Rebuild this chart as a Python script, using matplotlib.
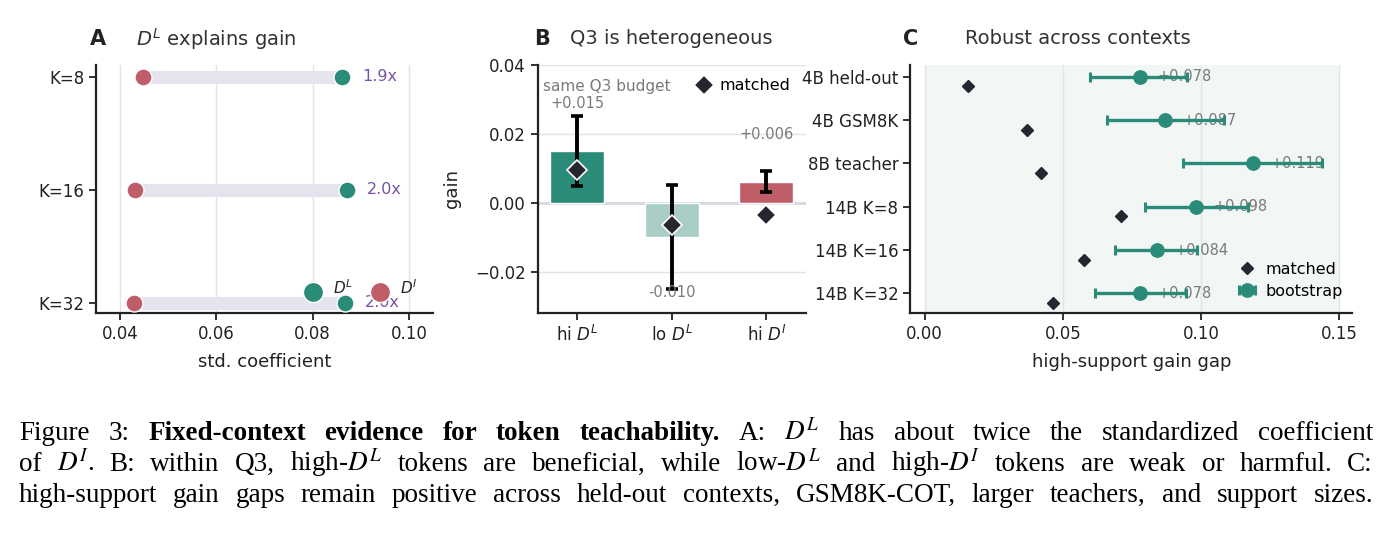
import numpy as np
import matplotlib as mpl
mpl.use('Agg')
import matplotlib.pyplot as plt

####################################################################################
# data

# panel A
k_labels = ['K=8', 'K=16', 'K=32']
coef_DI = [0.0447, 0.0431, 0.0428]
coef_DL = [0.0861, 0.0871, 0.0867]
key_x = [0.080, 0.094]          # inline key markers (D^L, D^I)

# panel B
groups = ['hi $D^L$', 'lo $D^L$', 'hi $D^I$']
gain = [0.0150, -0.0098, 0.0060]
gain_lo = [0.0049, -0.0249, 0.0030]
gain_hi = [0.0251, 0.0053, 0.0091]
matched_b = [0.0094, -0.0064, -0.0035]

# panel C
contexts = ['4B held-out', '4B GSM8K', '8B teacher', '14B K=8', '14B K=16', '14B K=32']
boot_gap = [0.0778, 0.0869, 0.1188, 0.0981, 0.0840, 0.0778]
boot_lo = [0.0597, 0.0659, 0.0933, 0.0798, 0.0688, 0.0615]
boot_hi = [0.0950, 0.1083, 0.1438, 0.1170, 0.0984, 0.0947]
matched_c = [0.0157, 0.0372, 0.0421, 0.0710, 0.0577, 0.0464]

caption = [
    [('Figure', 0), ('3:', 0), ('Fixed-context', 1), ('evidence', 1), ('for', 1), ('token', 1),
     ('teachability.', 1), ('A:', 0), ('$D^L$', 0), ('has', 0), ('about', 0), ('twice', 0),
     ('the', 0), ('standardized', 0), ('coefficient', 0)],
    [('of', 0), ('$D^I$.', 0), ('B:', 0), ('within', 0), ('Q3,', 0), ('high-$D^L$', 0), ('tokens', 0),
     ('are', 0), ('beneficial,', 0), ('while', 0), ('low-$D^L$', 0), ('and', 0), ('high-$D^I$', 0),
     ('tokens', 0), ('are', 0), ('weak', 0), ('or', 0), ('harmful.', 0), ('C:', 0)],
    [('high-support', 0), ('gain', 0), ('gaps', 0), ('remain', 0), ('positive', 0), ('across', 0),
     ('held-out', 0), ('contexts,', 0), ('GSM8K-COT,', 0), ('larger', 0), ('teachers,', 0),
     ('and', 0), ('support', 0), ('sizes.', 0)],
]

####################################################################################

TEAL = '#2b8b79'
RED = '#bf5d69'
LTEAL = '#a8cec5'
DARK = '#262630'
PURPLE = '#7653a8'
GRAY = '#7a7a7a'
GRID = '#e4e3ec'
INK = '#222222'

plt.rcParams['font.family'] = 'DejaVu Sans'
plt.rcParams['xtick.labelsize'] = 12
plt.rcParams['ytick.labelsize'] = 12
plt.rcParams['axes.labelsize'] = 13

W, H = 1396, 542
fig = plt.figure(figsize=(W / 100.0, H / 100.0), dpi=100)


def px_axes(left, right, top, bottom):
    return fig.add_axes([left / W, 1 - bottom / H, (right - left) / W, (bottom - top) / H])


def style(ax):
    for s in ['top', 'right']:
        ax.spines[s].set_visible(False)
    for s in ['left', 'bottom']:
        ax.spines[s].set_color(INK)
        ax.spines[s].set_linewidth(1.6)
    ax.tick_params(length=5, width=1.3, color=INK, labelcolor=INK)


def panel_title(ax, letter, title, lx, dx):
    ax.text(lx, 1.105, letter, transform=ax.transAxes, fontsize=15, fontweight='bold',
            color=INK, ha='left', va='center')
    ax.text(dx, 1.105, title, transform=ax.transAxes, fontsize=14, color='#333333',
            ha='left', va='center')

# ---------------------------------------------------------------- panel A
axA = px_axes(96, 433, 65, 313)
style(axA)
yA = np.arange(len(k_labels))
axA.hlines(yA, coef_DI, coef_DL, color='#e4e3ee', lw=9.5, zorder=1)
axA.scatter(coef_DI, yA, s=150, color=RED, edgecolor='white', linewidth=1.0, zorder=3)
axA.scatter(coef_DL, yA, s=150, color=TEAL, edgecolor='white', linewidth=1.0, zorder=3)
for i in range(len(k_labels)):
    axA.text(coef_DL[i] + 0.0042, yA[i], '%.1fx' % (coef_DL[i] / coef_DI[i]),
             color=PURPLE, fontsize=11.5, ha='left', va='center', zorder=2)
ky = yA[-1] - 0.1
axA.scatter([key_x[0]], [ky], s=210, color=TEAL, edgecolor='white', linewidth=1.0, zorder=4)
axA.scatter([key_x[1]], [ky], s=210, color=RED, edgecolor='white', linewidth=1.0, zorder=4)
axA.text(key_x[0] + 0.0043, ky - 0.03, '$D^L$', fontsize=11, color=INK, ha='left', va='center', zorder=5)
axA.text(key_x[1] + 0.0041, ky - 0.03, '$D^I$', fontsize=11, color=INK, ha='left', va='center', zorder=5)
axA.set_yticks(yA)
axA.set_yticklabels(k_labels)
axA.set_ylim(2.09, -0.105)
axA.set_xlim(0.035, 0.105)
axA.set_xticks([0.04, 0.06, 0.08, 0.10])
axA.xaxis.grid(True, color=GRID, lw=1.0, zorder=0)
axA.set_axisbelow(True)
axA.set_xlabel('std. coefficient', color=INK, labelpad=7)
panel_title(axA, 'A', '$D^L$ explains gain', -0.018, 0.119)

# ---------------------------------------------------------------- panel B
axB = px_axes(537.7, 806, 65, 313)
style(axB)
xB = np.arange(len(groups))
axB.yaxis.grid(True, color=GRID, lw=1.0, zorder=0)
axB.set_axisbelow(True)
axB.axhline(0, color='#d8d8e0', lw=2.0, zorder=1)
axB.bar(xB, gain, width=0.57, color=[TEAL, LTEAL, RED], edgecolor='white', linewidth=1.0, zorder=2)
err = np.array([np.array(gain) - np.array(gain_lo), np.array(gain_hi) - np.array(gain)])
axB.errorbar(xB, gain, yerr=err, fmt='none', ecolor='black', elinewidth=2.8,
             capsize=4.5, capthick=2.6, zorder=3)
axB.plot(xB, matched_b, 'D', ms=10, color=DARK, mec='white', mew=1.2, zorder=4,
         label='matched', linestyle='none')
for i, v in enumerate(gain):
    if v > 0:
        axB.text(xB[i], v + 0.0115, '%+.3f' % v, color=GRAY, fontsize=10.5, ha='center', va='bottom')
    else:
        axB.text(xB[i], v - 0.014, '%+.3f' % v, color=GRAY, fontsize=10.5, ha='center', va='top')
axB.text(0.02, 0.913, 'same Q3 budget', transform=axB.transAxes, color=GRAY, fontsize=11,
         ha='left', va='center')
axB.set_xticks(xB)
axB.set_xticklabels(groups)
axB.set_xlim(-0.42, 2.42)
axB.set_ylim(-0.032, 0.04)
axB.set_yticks([-0.02, 0.0, 0.02, 0.04])
axB.set_ylabel('gain', color=INK, labelpad=10)
axB.legend(loc='upper right', bbox_to_anchor=(0.978, 0.985), frameon=False, fontsize=11.5,
           handletextpad=0.4, borderaxespad=0.2, handlelength=1.2)
panel_title(axB, 'B', 'Q3 is heterogeneous', -0.013, 0.12)

# ---------------------------------------------------------------- panel C
axC = px_axes(910.2, 1352.3, 65, 313)
style(axC)
yC = np.arange(len(contexts))
axC.axvspan(0, 0.15, color='#f2f6f5', zorder=0, lw=0)
for xv in [0.0, 0.05, 0.10, 0.15]:
    axC.axvline(xv, color=GRID, lw=1.0, zorder=0.5)
errC = np.array([np.array(boot_gap) - np.array(boot_lo), np.array(boot_hi) - np.array(boot_gap)])
axC.plot(matched_c, yC + 0.22, 'D', ms=6.3, color=DARK, linestyle='none', zorder=4, label='matched')
eb = axC.errorbar(boot_gap, yC, xerr=errC, fmt='o', ms=9.6, color=TEAL, ecolor=TEAL,
                  elinewidth=2.4, capsize=3.8, capthick=2.2, zorder=3, label='bootstrap')
for i, v in enumerate(boot_gap):
    axC.text(v + 0.0064, yC[i], '%+.3f' % v, color=GRAY, fontsize=10.5, ha='left', va='center', zorder=2)
axC.set_yticks(yC)
axC.set_yticklabels(contexts)
axC.set_ylim(5.45, -0.27)
axC.set_xlim(-0.0052, 0.1547)
axC.set_xticks([0.0, 0.05, 0.10, 0.15])
axC.set_xlabel('high-support gain gap', color=INK, labelpad=7)
axC.legend(loc='lower right', bbox_to_anchor=(1.005, 0.012), frameon=False, fontsize=11.5,
           handletextpad=0.6, borderaxespad=0.3, handlelength=1.2, labelspacing=0.45)
panel_title(axC, 'C', 'Robust across contexts', -0.017, 0.123)

# ---------------------------------------------------------------- caption
r = fig.canvas.get_renderer()
x0, x1 = 19.0, 1373.0
baselines = [440, 471, 502]
for li, line in enumerate(caption):
    texts = []
    for s, bold in line:
        t = fig.text(0, 1 - baselines[li] / H, s, fontsize=19.5, family='Liberation Serif',
                     weight='bold' if bold else 'normal', math_fontfamily='stix',
                     ha='left', va='baseline', color='black')
        texts.append(t)
    widths = [t.get_window_extent(r).width for t in texts]
    gap = (x1 - x0 - sum(widths)) / (len(texts) - 1)
    x = x0
    for t, w in zip(texts, widths):
        t.set_x(x / W)
        x += w + gap

fig.savefig('out.png', dpi=100)
